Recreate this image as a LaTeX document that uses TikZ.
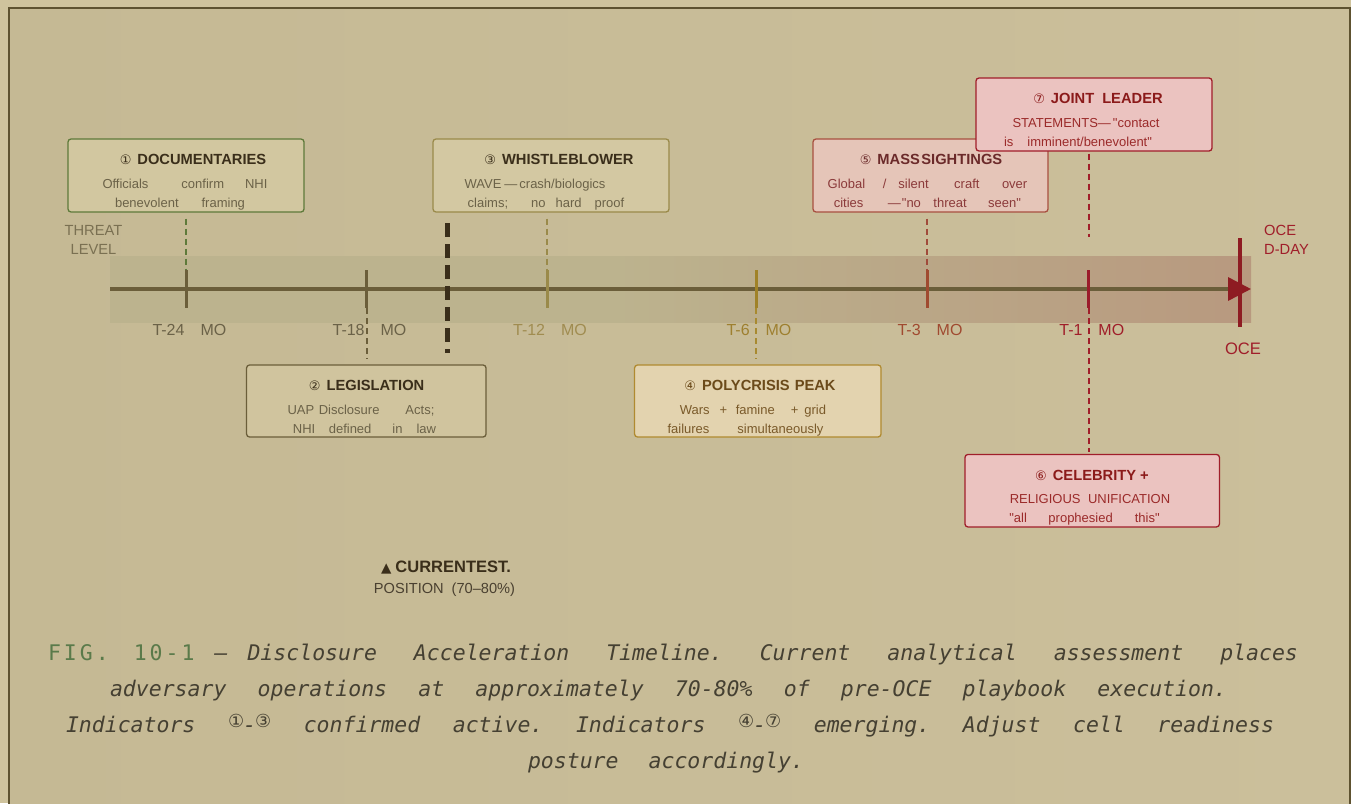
\documentclass[tikz,border=0pt]{standalone}
\usepackage{fontspec}
\setmainfont{Liberation Sans}[Ligatures=TeXOff]
\newfontfamily\symf{DejaVu Sans}
\newfontfamily\capmono{DejaVu Sans Mono}[Ligatures=TeXOff]
\newfontfamily\figmono{DejaVu Sans Mono}[LetterSpace=14]
\usetikzlibrary{arrows.meta}
\definecolor{bgouter}{HTML}{CFC39D}
\definecolor{bginL}{HTML}{C5B994}
\definecolor{bginR}{HTML}{CBBF9B}
\definecolor{framec}{HTML}{5E5230}
\definecolor{bandL}{HTML}{BCB38E}
\definecolor{bandR}{HTML}{B8997F}
\definecolor{axisc}{HTML}{6B5E3A}
\definecolor{oceRed}{HTML}{8E1B22}
\definecolor{d1}{HTML}{5E7A3A}\definecolor{f1}{HTML}{D2C7A0}
\definecolor{d2}{HTML}{6B5E3A}\definecolor{f2}{HTML}{D0C49E}
\definecolor{d3}{HTML}{9A8A4A}\definecolor{f3}{HTML}{D3C8A2}
\definecolor{d4}{HTML}{B08A30}\definecolor{f4}{HTML}{E3D3AF}
\definecolor{d5}{HTML}{A85040}\definecolor{f5}{HTML}{E5C5B8}
\definecolor{d6}{HTML}{A01E2A}\definecolor{f6}{HTML}{EBC3C0}
\definecolor{tdark}{HTML}{3A2E1A}\definecolor{bdark}{HTML}{6B6248}
\definecolor{t4}{HTML}{6B4A1A}\definecolor{b4}{HTML}{7A5A2A}
\definecolor{t5}{HTML}{6B2A2A}\definecolor{b5}{HTML}{8B3A3A}
\definecolor{t6}{HTML}{8B1A1A}\definecolor{b6}{HTML}{9B2A2A}
\definecolor{k12c}{HTML}{9A8A4A}\definecolor{k6c}{HTML}{A08228}
\definecolor{k3c}{HTML}{A04A30}\definecolor{k1c}{HTML}{9B1B2B}
\definecolor{l12c}{HTML}{A08C50}\definecolor{l6c}{HTML}{9E8030}
\definecolor{c4c}{HTML}{A88A30}\definecolor{c5c}{HTML}{A04A3A}
\definecolor{captxt}{HTML}{454032}\definecolor{figc}{HTML}{5A7A4A}
\definecolor{curc}{HTML}{3A2E1A}\definecolor{posc}{HTML}{4A4030}
\definecolor{threatc}{HTML}{7A7052}
\pgfdeclarehorizontalshading{bandshade}{100bp}{color(0bp)=(bandL); color(25bp)=(bandL); color(47bp)=(bandL); color(75bp)=(bandR); color(100bp)=(bandR)}
\newlength\jlw
\newcommand\jl[2]{{\frenchspacing\setlength\jlw{#1}\spaceskip=\fontdimen2\font plus 1fil\relax\hbox to \jlw{#2}}}
\newcommand\g[1]{\hspace*{#1pt}}
\newcommand\cnum[1]{{\symf\mdseries\fontsize{13}{13}\selectfont #1}}
\newcommand\capnum[1]{\raisebox{4.5pt}{\symf\upshape\fontsize{18}{18}\selectfont #1}}
\begin{document}
\begin{tikzpicture}[x=1pt,y=-1pt,
  evbox/.style={draw, rounded corners=3pt, line width=1.3pt, inner sep=0},
  ttl/.style={font=\bfseries\fontsize{14.7}{17}\selectfont, anchor=base, inner sep=0},
  bod/.style={font=\fontsize{13}{16}\selectfont, anchor=base, inner sep=0},
  tk/.style={minimum width=3pt, minimum height=38pt, inner sep=0, draw=none},
  conn/.style={dash pattern=on 6pt off 4pt, line width=2pt},
  tlab/.style={font=\fontsize{16}{19}\selectfont, anchor=base, inner sep=0},
  capl/.style={font=\capmono\itshape\fontsize{21.5}{24}\selectfont, text=captxt, anchor=base, inner sep=0}
]
\useasboundingbox (0,0) rectangle (1351,803);
\fill[bgouter] (0,0) rectangle (1351,803);
\path[left color=bginL, right color=bginR] (8.5,7.5) rectangle (1349.5,815);
\draw[framec, line width=2pt] (8.5,815) -- (8.5,7.5) -- (1349.5,7.5) -- (1349.5,815);

% band and axis
\shade[shading=bandshade] (110,256) rectangle (1251,322);
\coordinate (axL) at (110,289);
\coordinate (axR) at (1251,289);
\draw[axisc, line width=3.5pt, -{Triangle[length=23pt,width=23pt,color=oceRed]}] (axL) -- (axR);
\node[fill=oceRed, minimum width=4.5pt, minimum height=89pt, inner sep=0] (oce) at (1240,282.5) {};

% ticks
\node[tk, fill=axisc] (k24) at (186,289) {};
\node[tk, fill=axisc] (k18) at (366.5,289) {};
\node[tk, fill=k12c] (k12) at (547,289) {};
\node[tk, fill=k6c] (k6) at (756,289) {};
\node[tk, fill=k3c] (k3) at (927,289) {};
\node[tk, fill=k1c] (k1) at (1088.5,289) {};

% tick labels
\node[tlab, text=bdark] (l24) at (189.4,335) {T-24\hspace{16pt}MO};
\node[tlab, text=bdark] (l18) at (369.5,335) {T-18\hspace{16pt}MO};
\node[tlab, text=l12c] (l12) at (550,335) {T-12\hspace{16pt}MO};
\node[tlab, text=l6c] (l6) at (759,335) {T-6\hspace{16pt}MO};
\node[tlab, text=k3c] (l3) at (930,335) {T-3\hspace{16pt}MO};
\node[tlab, text=d6] (l1) at (1091.8,335) {T-1\hspace{16pt}MO};

% side labels
\node[font=\fontsize{14.7}{19}\selectfont, text=threatc, align=center, inner sep=0] (threat) at (93.5,240) {THREAT\\LEVEL};
\node[font=\fontsize{14.7}{19}\selectfont, text=d6, align=left, anchor=west, inner sep=0] (oceday) at (1264,240) {OCE\\D-DAY};
\node[font=\fontsize{16.6}{19}\selectfont, text=d6, anchor=base, inner sep=0] (ocelab) at (1243,354) {OCE};

% boxes
\node[evbox, draw=d1, fill=f1, minimum width=236pt, minimum height=73pt] (b1) at (186,175.5) {};
\node[evbox, draw=d2, fill=f2, minimum width=239.5pt, minimum height=72pt] (b2) at (366.3,401) {};
\node[evbox, draw=d3, fill=f3, minimum width=236pt, minimum height=73pt] (b3) at (551,175.5) {};
\node[evbox, draw=d4, fill=f4, minimum width=246.5pt, minimum height=72pt] (b4) at (757.8,401) {};
\node[evbox, draw=d5, fill=f5, minimum width=235pt, minimum height=73pt] (b5) at (930.5,175.5) {};
\node[evbox, draw=d6, fill=f6, minimum width=236pt, minimum height=73pt] (b7) at (1094,114.5) {};
\node[evbox, draw=d6, fill=f6, minimum width=254.5pt, minimum height=72.5pt] (b6) at (1092.2,490.7) {};

% box texts
\node[ttl, text=tdark] (b1t) at (193,164.5) {\cnum{①}\hspace{6pt}DOCUMENTARIES};
\node[bod, text=bdark] (b1a) at (185,188) {Officials\g{33}confirm\g{21}NHI};
\node[bod, text=bdark] (b1b) at (180,207) {benevolent\g{23}framing};

\node[ttl, text=tdark] (b2t) at (366.6,390.5) {\cnum{②}\hspace{6pt}LEGISLATION};
\node[bod, text=bdark] (b2a) at (361,414) {UAP\g{4.5}Disclosure\g{26}Acts;};
\node[bod, text=bdark] (b2b) at (364.5,433) {NHI\g{13.5}defined\g{21}in\g{14}law};

\node[ttl, text=tdark] (b3t) at (559,164.5) {\cnum{③}\hspace{6pt}WHISTLEBLOWER};
\node[bod, text=bdark] (b3a) at (535,188) {WAVE\g{3}—\g{2}crash/biologics};
\node[bod, text=bdark] (b3b) at (546,207) {claims;\g{23}no\g{10}hard\g{13}proof};

\node[ttl, text=t4] (b4t) at (760,390.5) {\cnum{④}\hspace{6pt}POLYCRISIS\hspace{5pt}PEAK};
\node[bod, text=b4] (b4a) at (753,414) {Wars\g{10}+\g{8.5}famine\g{16}+\g{6}grid};
\node[bod, text=b4] (b4b) at (745.5,433) {failures\g{28}simultaneously};

\node[ttl, text=t5] (b5t) at (931,164.5) {\cnum{⑤}\hspace{6pt}MASS\hspace{1.5pt}SIGHTINGS};
\node[bod, text=b5] (b5a) at (927.5,188) {Global\g{17.5}/\g{12}silent\g{25.5}craft\g{22.5}over};
\node[bod, text=b5] (b5b) at (927.4,207) {cities\g{24.5}—\g{1}"no\g{12.5}threat\g{21.5}seen"};

\node[ttl, text=t6] (b7t) at (1098,103.5) {\cnum{⑦}\hspace{6pt}JOINT\hspace{8pt}LEADER};
\node[bod, text=b6] (b7a) at (1086,127) {STATEMENTS—\g{2}"contact};
\node[bod, text=b6] (b7b) at (1078,146) {is\g{14}imminent/benevolent"};

\node[ttl, text=t6] (b6t) at (1092,480) {\cnum{⑥}\hspace{6pt}CELEBRITY +};
\node[bod, text=b6] (b6a) at (1090,503) {RELIGIOUS\g{7.5}UNIFICATION};
\node[bod, text=b6] (b6b) at (1084.5,522) {"all\g{21.5}prophesied\g{22}this"};

% connectors
\coordinate (c7end) at (1088.5,237);
\draw[conn, draw=d1, shorten <=6pt] (b1.south -| k24) -- (k24.north);
\draw[conn, draw=d2, shorten >=5pt] (k18.south) -- (b2.north -| k18);
\draw[conn, draw=d3, shorten <=6pt] (b3.south -| k12) -- (k12.north);
\draw[conn, draw=c4c, shorten >=5pt] (k6.south) -- (b4.north -| k6);
\draw[conn, draw=c5c, shorten <=6pt] (b5.south -| k3) -- (k3.north);
\draw[conn, draw=d6, shorten <=2pt] (b7.south -| k1) -- (c7end);
\draw[conn, draw=d6, shorten >=2pt] (k1.south) -- (b6.north -| k1);

% current position
\coordinate (curTop) at (447.7,223);
\coordinate (curBot) at (447.7,353);
\draw[curc, line width=4.5pt, dash pattern=on 14pt off 7pt] (curTop) -- (curBot);
\node[font=\bfseries\fontsize{16.5}{19}\selectfont, text=curc, anchor=base, inner sep=0] (curlab) at (446,572) {{\symf\mdseries\fontsize{13.5}{13}\selectfont ▲}\hspace{4pt}CURRENTEST.};
\node[font=\fontsize{14.6}{18}\selectfont, text=posc, anchor=base, inner sep=0] (poslab) at (444.5,593) {POSITION\hspace{8pt}(70–80\%)};

% caption
\node[capl] (cap1) at (673,660) {\jl{1250pt}{\mbox{\figmono\upshape\color{figc}FIG.\hspace*{25pt}10-1}\hspace*{20pt}—\hspace*{20pt}Disclosure Acceleration Timeline. Current analytical assessment places}};
\node[capl] (cap2) at (668.5,696) {\jl{1117pt}{adversary operations at approximately 70-80\% of pre-OCE playbook execution.}};
\node[capl] (cap3) at (670,732) {\jl{1208pt}{Indicators \capnum{①}\kern-1pt-\kern-1pt\capnum{③} confirmed active. Indicators \capnum{④}\kern-1pt-\kern-1pt\capnum{⑦} emerging. Adjust cell readiness}};
\node[capl] (cap4) at (666,768) {\jl{276pt}{posture accordingly.}};
\end{tikzpicture}
\end{document}
